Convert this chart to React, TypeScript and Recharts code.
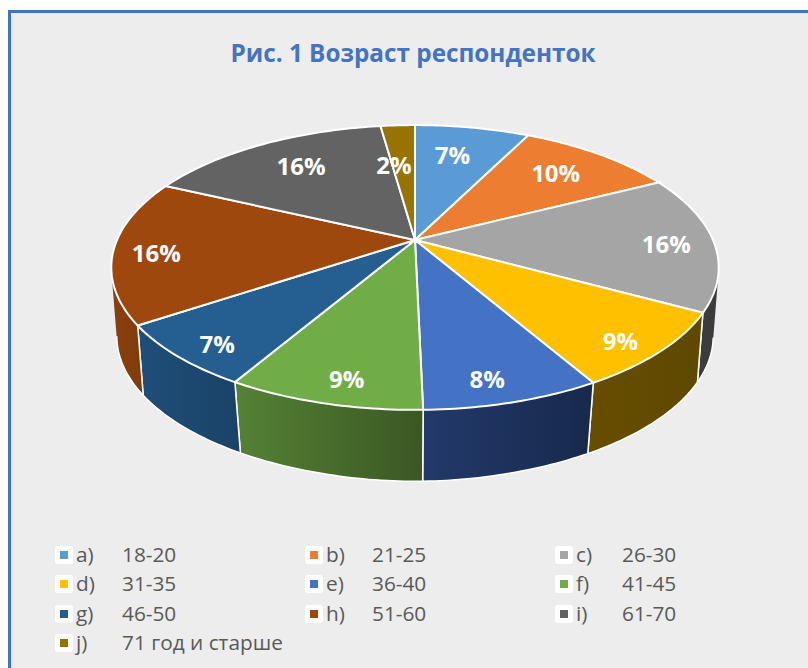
import React from "react";
import { PieChart, Pie, Legend } from "recharts";

const keys = ["a)", "b)", "c)", "d)", "e)", "f)", "g)", "h)", "i)", "j)"];
const ranges = ["18-20", "21-25", "26-30", "31-35", "36-40", "41-45", "46-50", "51-60", "61-70", "71 год и старше"];
// estimated from the slice edges, the labels show them rounded
const shares = [7.35, 10.1, 15.55, 8.7, 7.95, 8.75, 7.2, 16.4, 15.8, 2.2];

const faceColors = ["#5b9bd5", "#ed7d31", "#a5a5a5", "#ffc000", "#4472c4", "#70ad47", "#255e91", "#9e480e", "#636363", "#997300"];
// left and right shade of each slice's side wall
const wallColors = [
  ["#3d6a94", "#365e84"], ["#a4561f", "#8f4a1b"], ["#3f3f3f", "#3b3b3b"], ["#664d00", "#5f4800"], ["#22396a", "#17294c"],
  ["#548235", "#3b5723"], ["#1f4e79", "#1a4368"], ["#8a400d", "#7a380b"], ["#444444", "#3a3a3a"], ["#6b5100", "#5f4800"],
];
// small pixel shifts of the percent labels away from their computed spot
const labelNudge = [[-6, -1], [-1, -2], [9, 2], [-5, 5], [-14, -4], [12, -5], [6, 4], [-13, 4], [3, -1], [-8, 11]];

const data = shares.map((value, i) => ({ name: keys[i], value }));

const TILT = 0.46; // height of the flattened circle
const PERSPECTIVE = 0.193; // back of the pie is further away
const WALL_INSET = 5.5;
const WALL_DROP = 68;

// circle point -> screen offset from the pie centre
const project = (deg: number, r: number, radius: number) => {
  const u = r * Math.cos((deg * Math.PI) / 180);
  const v = r * Math.sin((deg * Math.PI) / 180);
  const d = 1 + PERSPECTIVE * v;
  return { x: (radius * u) / d, y: (-radius * TILT * v) / d };
};

const rimAngles = (start: number, end: number) => {
  const steps = Math.max(2, Math.ceil(Math.abs(end - start)));
  const out = [];
  for (let i = 0; i <= steps; i++) out.push(start + ((end - start) * i) / steps);
  return out;
};

// one subpath per quad, all wound the same way so they fill without seams
const quadPath = (q: number[][]) => {
  let area = 0;
  q.forEach((p, i) => {
    const n = q[(i + 1) % q.length];
    area += p[0] * n[1] - n[0] * p[1];
  });
  const pts = area < 0 ? [...q].reverse() : q;
  return `M${pts.join("L")}Z`;
};

const Wall = (props: any) => {
  const { cx, cy, outerRadius, startAngle, endAngle, index } = props;
  const angles = rimAngles(startAngle, endAngle);
  const top = angles.map((a) => {
    const p = project(a, 1, outerRadius);
    return [cx + p.x, cy + p.y];
  });
  const bottom = angles.map((a) => {
    const p = project(a, 1, outerRadius);
    const inset = WALL_INSET * Math.max(-1, Math.min(1, p.x / 100));
    return [cx + p.x - inset, cy + p.y * 1.02 + WALL_DROP];
  });
  const isFront = (a: number) => Math.sin((a * Math.PI) / 180) < -PERSPECTIVE;
  const frontRim = bottom.filter((_, i) => isFront(angles[i]));
  const xs = top.map((p) => p[0]);
  const id = `wall-${index}`;
  const last = angles.length - 1;
  const body = angles
    .slice(0, last)
    .map((_, i) => quadPath([top[i], top[i + 1], bottom[i + 1], bottom[i]]))
    .join("");
  return (
    <g>
      <defs>
        <linearGradient id={id} gradientUnits="userSpaceOnUse" x1={Math.min(...xs)} y1={0} x2={Math.max(...xs)} y2={0}>
          <stop offset="0%" stopColor={wallColors[index][0]} />
          <stop offset="100%" stopColor={wallColors[index][1]} />
        </linearGradient>
      </defs>
      <path d={body} fill={`url(#${id})`} fillRule="nonzero" />
      {frontRim.length > 1 && <polyline points={frontRim.join(" ")} fill="none" stroke="#ffffff" strokeWidth={1.5} />}
      {[0, last].map((i) =>
        isFront(angles[i]) ? <line key={i} x1={top[i][0]} y1={top[i][1]} x2={bottom[i][0]} y2={bottom[i][1]} stroke="#ffffff" strokeWidth={1.5} /> : null
      )}
    </g>
  );
};

const Face = (props: any) => {
  const { cx, cy, outerRadius, startAngle, endAngle, index } = props;
  const pts = rimAngles(startAngle, endAngle).map((a) => {
    const p = project(a, 1, outerRadius);
    return `${cx + p.x},${cy + p.y}`;
  });
  return <path d={`M${cx},${cy}L${pts.join("L")}Z`} fill={faceColors[index]} stroke="#ffffff" strokeWidth={2} strokeLinejoin="round" />;
};

const renderLabel = (props: any) => {
  const { cx, cy, outerRadius, midAngle, value, index } = props;
  const r = 0.81 - 0.09 * Math.sin((midAngle * Math.PI) / 180);
  const p = project(midAngle, r, outerRadius);
  return (
    <text
      x={cx + p.x + labelNudge[index][0]}
      y={cy + p.y + labelNudge[index][1]}
      textAnchor="middle"
      dominantBaseline="central"
      fill="#ffffff"
      fontFamily="'Open Sans'"
      fontWeight={700}
      fontSize={24}
    >
      {Math.round(value)}%
    </text>
  );
};

const LegendGrid = () => (
  <div style={{ position: "relative", width: 760, height: 120, fontFamily: "'Open Sans'", fontSize: 20.8, color: "#595959" }}>
    {keys.map((key, i) => (
      <div key={key} style={{ position: "absolute", left: (i % 3) * 250, top: Math.floor(i / 3) * 29.3, height: 29, lineHeight: "29px", whiteSpace: "nowrap" }}>
        <span style={{ position: "absolute", left: 0, top: 6, width: 18, height: 18, background: "#ffffff", borderRadius: 3 }}>
          <span style={{ position: "absolute", left: 5, top: 5, width: 8, height: 8, background: faceColors[i] }} />
        </span>
        <span style={{ position: "absolute", left: 21 }}>{key}</span>
        <span style={{ position: "absolute", left: 67 }}>{ranges[i]}</span>
      </div>
    ))}
  </div>
);

export default function App() {
  return (
    <div style={{ position: "absolute", left: 0, top: 0, width: 808, height: 668, background: "#ffffff", overflow: "hidden" }}>
      <div style={{ position: "absolute", left: 8, top: 10, right: 0, bottom: 0, background: "#ededed", borderLeft: "3px solid #4472c4", borderTop: "3px solid #4472c4" }} />
      <PieChart width={808} height={668} margin={{ top: 0, right: 0, bottom: 0, left: 0 }} style={{ position: "absolute", left: 0, top: 0 }}>
        <text x={413} y={52} textAnchor="middle" dominantBaseline="central" fill="#4472c4" fontFamily="'Open Sans'" fontWeight={700} fontSize={24.3}>
          Рис. 1 Возраст респонденток
        </text>
        <Pie data={data} dataKey="value" nameKey="name" cx={415} cy={240} outerRadius={298} startAngle={90} endAngle={-270} legendType="none" shape={Wall} isAnimationActive={false} />
        <Pie data={data} dataKey="value" nameKey="name" cx={415} cy={240} outerRadius={298} startAngle={90} endAngle={-270} shape={Face} label={renderLabel} labelLine={false} isAnimationActive={false} />
        <Legend content={<LegendGrid />} wrapperStyle={{ position: "absolute", left: 55, top: 540, width: 760, bottom: "auto" }} />
      </PieChart>
    </div>
  );
}
